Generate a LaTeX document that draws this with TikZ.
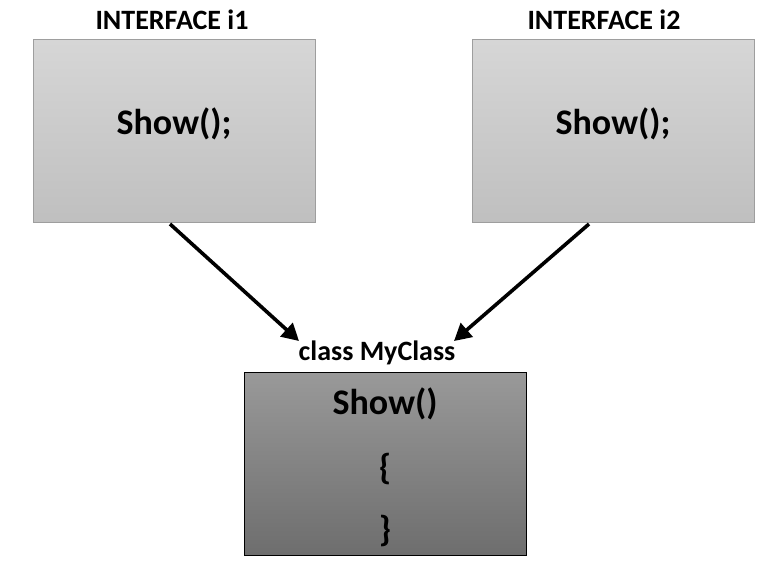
\documentclass[tikz,border=0pt]{standalone}
\usepackage{fontspec}
\setmainfont{Carlito}
\usetikzlibrary{arrows.meta}
\begin{document}
\begin{tikzpicture}[x=1pt,y=-1pt,
  ibox/.style={draw=black!38, line width=0.8pt, top color=black!16, bottom color=black!25, minimum width=282pt, minimum height=183pt, inner sep=0pt, anchor=north west},
  cbox/.style={draw=black, line width=1pt, top color=black!40, bottom color=black!57, minimum width=282pt, minimum height=183pt, inner sep=0pt, anchor=north west},
  title/.style={font=\bfseries\fontsize{28}{32}\selectfont, inner sep=0pt},
  big/.style={font=\bfseries\fontsize{36}{40}\selectfont, inner sep=0pt},
  conn/.style={line width=3.6pt, -{Triangle[length=17pt,width=18pt]}}]
\useasboundingbox (0,0) rectangle (767,565);
\node[ibox] (i1) at (33,39) {};
\node[ibox] (i2) at (472,39) {};
\node[cbox] (c) at (244,372) {};
\node[title] (t1) at (172,20) {INTERFACE i1};
\node[title] (t2) at (604,20) {INTERFACE i2};
\node[title] (tc) at (377,353) {class MyClass};
\node[big] (s1) at (174,124) {Show();};
\node[big] (s2) at (613,124) {Show();};
\node[big] (s3) at (385,404) {Show()};
\node[big] (b1) at (385,469) {\{};
\node[big] (b2) at (385,531) {\}};
\coordinate (a1s) at (170,224);
\coordinate (a1e) at (299,341);
\coordinate (a2s) at (589,224);
\coordinate (a2e) at (454,341);
\draw[conn] (a1s) -- (a1e);
\draw[conn] (a2s) -- (a2e);
\end{tikzpicture}
\end{document}
